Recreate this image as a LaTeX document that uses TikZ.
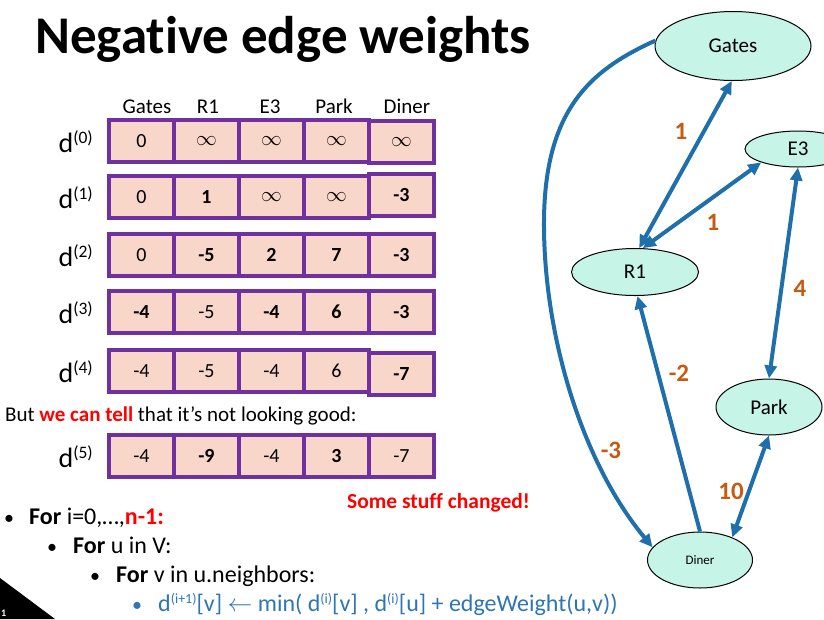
\documentclass[tikz,border=0pt]{standalone}
\usepackage{fontspec}
\setmainfont[Ligatures=NoCommon]{Carlito}
\usetikzlibrary{shapes.geometric,arrows.meta}

\definecolor{cellpurple}{HTML}{7030A0}
\definecolor{cellfill}{HTML}{F8D7CA}
\definecolor{nodefill}{HTML}{C6F4E6}
\definecolor{edgeblue}{HTML}{1F6FAB}
\definecolor{weightorange}{HTML}{C55A11}
\definecolor{codeblue}{HTML}{2E75B6}
\definecolor{alertred}{HTML}{FF0000}

\newcommand{\fs}[1]{\fontsize{#1}{#1}\selectfont}
% raised superscript: lift, size, text
\newcommand{\supr}[3]{\raisebox{#1}{\fs{#2}#3}}

% one row of the distance table: name, centre y, diner offset, five entries
\newcommand{\distrow}[8]{%
  \node[cell] (#1-gates) at (141.5,#2) {#4};
  \node[cell] (#1-r1)    at (206.5,#2) {#5};
  \node[cell] (#1-e3)    at (271.5,#2) {#6};
  \node[cell] (#1-park)  at (336.5,#2) {#7};
  \node[cell] (#1-diner) at (401.5,{#2+#3}) {#8};
}

\begin{document}
\begin{tikzpicture}[x=1pt,y=-1pt,
  cell/.style={draw=cellpurple, line width=4.5pt, fill=cellfill,
    minimum width=65pt, minimum height=42pt, inner sep=0pt, font=\fs{20}},
  plain/.style={inner sep=0pt, anchor=base west},
  header/.style={inner sep=0pt, anchor=base, font=\fs{21}},
  dlabel/.style={inner sep=0pt, anchor=base east, font=\fs{28}},
  place/.style={ellipse, draw=black, line width=1pt, fill=nodefill,
    inner sep=0pt, font=\fs{21}},
  road/.style={draw=edgeblue, line width=4pt},
  tip/.tip={Triangle[length=13pt,width=12pt]},
  weight/.style={text=weightorange, font=\bfseries\fs{25}, inner sep=0pt},
  code/.style={plain, font=\fs{24}},
  dot/.style={plain, font=\fs{20}},
]
\useasboundingbox (0,0) rectangle (824,619);
\clip (0,0) rectangle (824,619);

% title
\node[plain, font=\bfseries\fs{53}] (title) at (35,53) {Negative edge weights};

% column headers
\node[header] (h-gates) at (147,113) {Gates};
\node[header] (h-r1)    at (208,113) {R1};
\node[header] (h-e3)    at (270,113) {E3};
\node[header] (h-park)  at (334,113) {Park};
\node[header] (h-diner) at (407,113) {Diner};

% table rows
\distrow{r0}{141}{1}{0}{$\infty$}{$\infty$}{$\infty$}{$\infty$}
\distrow{r1}{197}{-2}{0}{\textbf{1}}{$\infty$}{$\infty$}{\textbf{-3}}
\distrow{r2}{255}{0}{0}{\textbf{-5}}{\textbf{2}}{\textbf{7}}{\textbf{-3}}
\distrow{r3}{312}{0}{\textbf{-4}}{-5}{\textbf{-4}}{\textbf{6}}{\textbf{-3}}
\distrow{r4}{371}{3}{-4}{-5}{-4}{6}{\textbf{-7}}
\distrow{r5}{456}{0}{-4}{\textbf{-9}}{-4}{\textbf{3}}{-7}

% row labels
\node[dlabel] (l0) at (93,152) {d\supr{9pt}{17.5}{(0)}};
\node[dlabel] (l1) at (93,208) {d\supr{9pt}{17.5}{(1)}};
\node[dlabel] (l2) at (93,266) {d\supr{9pt}{17.5}{(2)}};
\node[dlabel] (l3) at (93,323) {d\supr{9pt}{17.5}{(3)}};
\node[dlabel] (l4) at (93,382) {d\supr{9pt}{17.5}{(4)}};
\node[dlabel] (l5) at (93,467) {d\supr{9pt}{17.5}{(5)}};

% remark
\node[plain, font=\fs{21}] (remark) at (5,421)
  {But \textcolor{alertred}{\bfseries we can tell} that it’s not looking good:};
\node[plain, font=\bfseries\fs{21.5}, text=alertred] (changed) at (347,508) {Some stuff changed!};

% pseudocode
\node[dot] (b1) at (4,524) {•};
\node[code] (t1) at (29,524) {\textbf{For} i=0,…,\textcolor{alertred}{\bfseries n-1:}};
\node[dot] (b2) at (47,553) {•};
\node[code] (t2) at (73,553) {\textbf{For} u in V:};
\node[dot] (b3) at (90,582) {•};
\node[code] (t3) at (116,582) {\textbf{For} v in u.neighbors:};
\node[dot, text=codeblue] (b4) at (132,611) {•};
\node[code, text=codeblue] (t4) at (158,611)
  {d\supr{8pt}{14}{(i+1)}[v] $\leftarrow$ min( d\supr{8pt}{14}{(i)}[v] , d\supr{8pt}{14}{(i)}[u] + edgeWeight(u,v))};

% slide corner
\fill[black] (0,578) -- (0,619) -- (55,619) -- cycle;
\node[plain, font=\bfseries\fs{10}, text=white] (pageno) at (1,616) {1};

% graph
\node[place, minimum width=156pt, minimum height=69pt] (gates) at (733,46) {Gates};
\node[place, minimum width=106pt, minimum height=36pt] (e3) at (798,149) {E3};
\node[place, minimum width=127pt, minimum height=47pt] (r1) at (635,272) {R1};
\node[place, minimum width=106pt, minimum height=56pt] (park) at (769,407) {Park};
\node[place, minimum width=105pt, minimum height=56pt, font=\fs{13}] (diner) at (700,560) {Diner};

\draw[road, {tip}-{tip}] (gates.-92) -- (r1.80);
\draw[road, {tip}-{tip}] (r1.72) -- (e3.200);
\draw[road, {tip}-{tip}] (e3.-90) -- (park.90);
\draw[road, -{tip}] (diner.90) -- (r1.-84);
\draw[road, {tip}-{tip}] (park.-90) -- (diner.35);
\coordinate (swing) at (544,220);
\draw[road, -{tip}] (gates.176) .. controls (590,70) and (545,110) .. (swing)
  .. controls (543,330) and (580,460) .. (diner.165);

% weights
\node[weight] (w-gr) at (681,131) {1};
\node[weight] (w-re) at (713,222) {1};
\node[weight] (w-ep) at (800,288) {4};
\node[weight] (w-dr) at (679,373) {-2};
\node[weight] (w-gd) at (611,450) {-3};
\node[weight] (w-pd) at (731,491) {10};
\end{tikzpicture}
\end{document}
